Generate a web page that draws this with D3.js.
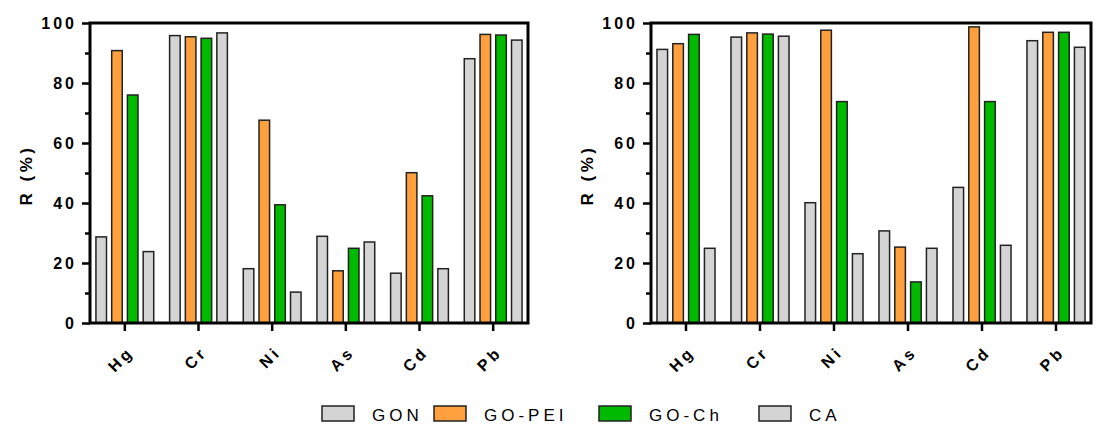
<!DOCTYPE html>
<html>
<head>
<meta charset="utf-8">
<script src="https://cdn.jsdelivr.net/npm/d3@7"></script>
<style>
  body { margin: 0; background: #fff; }
  text { font-family: "Liberation Sans", Arial, sans-serif; fill: #000; }
</style>
</head>
<body>
<svg id="chart" width="1097" height="427"></svg>
<script>
// Removal efficiency R (%) per metal ion for four adsorbents
const metals = ["Hg", "Cr", "Ni", "As", "Cd", "Pb"];
const seriesNames = ["GON", "GO-PEI", "GO-Ch", "CA"];
const seriesColors = ["#d4d4d4", "#ffa03f", "#00ba00", "#d4d4d4"];
const yTicks = [0, 20, 40, 60, 80, 100];
const yMinorTicks = [10, 30, 50, 70, 90];

// left panel
const leftGON   = [28.7, 95.8, 18.1, 28.9, 16.6, 88.1];
const leftGOPEI = [90.8, 95.4, 67.6, 17.4, 50.1, 96.2];
const leftGOCh  = [76.0, 94.9, 39.4, 24.9, 42.4, 96.0];
const leftCA    = [23.8, 96.7, 10.3, 27.0, 18.1, 94.3];

// right panel
const rightGON   = [91.2, 95.3, 40.1, 30.7, 45.2, 94.1];
const rightGOPEI = [93.1, 96.7, 97.6, 25.3, 98.7, 96.9];
const rightGOCh  = [96.2, 96.3, 73.8, 13.7, 73.8, 96.9];
const rightCA    = [24.9, 95.6, 23.1, 24.9, 25.9, 91.9];

const svg = d3.select("#chart");
const TOP = 23, BOTTOM = 323;
const y = d3.scaleLinear().domain([0, 100]).range([BOTTOM, TOP]);
const FONT = "'Liberation Sans', Arial, sans-serif";

function drawPanel(L, R, series) {
  const g = svg.append("g");
  const x = d3.scaleBand().domain(metals).range([L - 2, R + 2])
    .paddingInner(0.145).paddingOuter(0.0725);
  const xi = d3.scaleBand().domain(seriesNames).range([0, x.bandwidth()])
    .paddingInner(0.33).paddingOuter(0.165);

  // bars
  seriesNames.forEach((name, si) => {
    g.append("g").selectAll("rect").data(series[si]).join("rect")
      .attr("x", (d, i) => x(metals[i]) + xi(name))
      .attr("y", d => y(d))
      .attr("width", xi.bandwidth())
      .attr("height", d => y(0) - y(d))
      .attr("fill", seriesColors[si])
      .attr("stroke", "#222")
      .attr("stroke-width", 1.5);
  });

  // y axis: major ticks with labels
  const ya = g.append("g").attr("transform", `translate(${L},0)`)
    .call(d3.axisLeft(y).tickValues(yTicks).tickSize(8).tickPadding(5).tickSizeOuter(0));
  ya.select(".domain").remove();
  ya.selectAll(".tick line").attr("stroke", "#000").attr("stroke-width", 2.5);
  ya.selectAll(".tick text")
    .attr("dy", "0.36em")
    .style("font-size", "16px").style("font-weight", "bold")
    .style("letter-spacing", "3px").style("font-family", FONT);

  // y axis: minor ticks
  const ym = g.append("g").attr("transform", `translate(${L},0)`)
    .call(d3.axisLeft(y).tickValues(yMinorTicks).tickSize(5).tickFormat(""));
  ym.select(".domain").remove();
  ym.selectAll(".tick line").attr("stroke", "#000").attr("stroke-width", 2.5);

  // x axis
  const xa = g.append("g").attr("transform", `translate(0,${BOTTOM})`)
    .call(d3.axisBottom(x).tickSize(8).tickSizeOuter(0));
  xa.select(".domain").remove();
  xa.selectAll(".tick line").attr("stroke", "#000").attr("stroke-width", 2.5);
  xa.selectAll(".tick text")
    .attr("x", 0).attr("y", 0).attr("dy", 0)
    .attr("text-anchor", "end")
    .attr("transform", "translate(10,30) rotate(-45)")
    .style("font-size", "16px").style("font-weight", "bold")
    .style("letter-spacing", "3.5px").style("font-family", FONT);

  // frame
  g.append("rect")
    .attr("x", L).attr("y", TOP)
    .attr("width", R - L).attr("height", BOTTOM - TOP)
    .attr("fill", "none").attr("stroke", "#000").attr("stroke-width", 3);

  // y axis title
  g.append("text")
    .attr("transform", `translate(${L - 58},${(TOP + BOTTOM) / 2 + 2}) rotate(-90)`)
    .attr("text-anchor", "middle")
    .style("font-size", "17px").style("font-weight", "bold")
    .style("letter-spacing", "3.5px")
    .text("R (%)");
}

drawPanel(90, 528, [leftGON, leftGOPEI, leftGOCh, leftCA]);
drawPanel(651, 1091, [rightGON, rightGOPEI, rightGOCh, rightCA]);

// legend
const legendX = [322, 434, 599, 759];
const legend = svg.append("g");
seriesNames.forEach((name, i) => {
  legend.append("rect")
    .attr("x", legendX[i]).attr("y", 406)
    .attr("width", 32).attr("height", 15)
    .attr("fill", seriesColors[i]).attr("stroke", "#222").attr("stroke-width", 1.5);
  legend.append("text")
    .attr("x", legendX[i] + 50).attr("y", 421)
    .style("font-size", "17px").style("letter-spacing", "4px")
    .text(name);
});
</script>
</body>
</html>
